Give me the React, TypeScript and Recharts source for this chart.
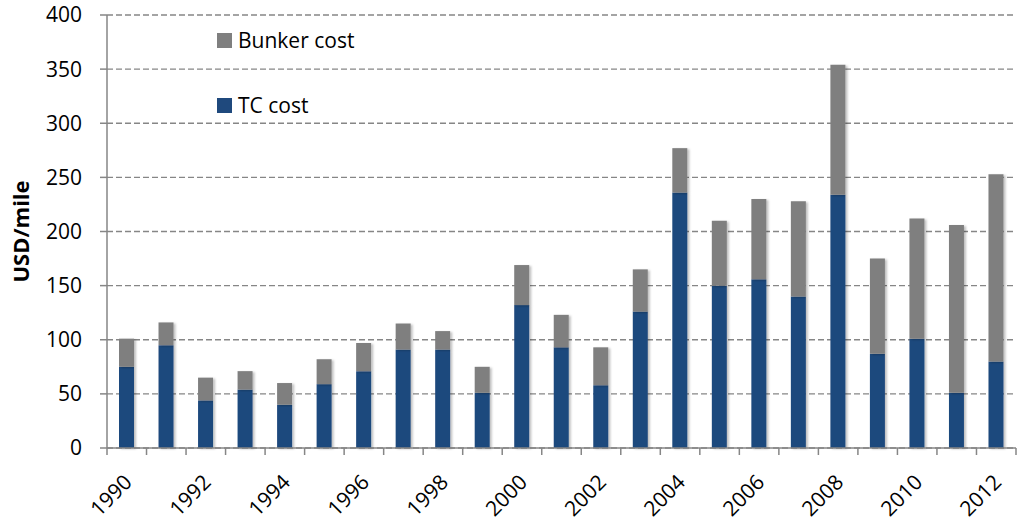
import { BarChart, Bar, XAxis, YAxis, CartesianGrid, Legend } from "recharts";

const years = [
  "1990", "1991", "1992", "1993", "1994", "1995", "1996", "1997", "1998", "1999", "2000", "2001",
  "2002", "2003", "2004", "2005", "2006", "2007", "2008", "2009", "2010", "2011", "2012",
];
const tcCost = [75, 95, 44, 54, 40, 59, 71, 91, 91, 51, 132, 93, 58, 126, 236, 150, 156, 140, 234, 87, 101, 51, 80];
const bunkerCost = [26, 21, 21, 17, 20, 23, 26, 24, 17, 24, 37, 30, 35, 39, 41, 60, 74, 88, 120, 88, 111, 155, 173];
const yTicks = [0, 50, 100, 150, 200, 250, 300, 350, 400];

const data = years.map((year, i) => ({ year, tc: tcCost[i], bunker: bunkerCost[i] }));

const FONT = "'Open Sans', sans-serif";
const AXIS = "#868686";
const BLUE = "#1f497d";
const GRAY = "#7f7f7f";

function YearTick(props: any) {
  const { x, y, payload, index } = props;
  const half = payload?.offset || 19.7;
  const tx = x - 4;
  const ty = y + 25;
  return (
    <g>
      <line x1={x - half} x2={x - half} y1={y} y2={y + 7} stroke={AXIS} strokeWidth={1.5} />
      {index === years.length - 1 && (
        <line x1={x + half} x2={x + half} y1={y} y2={y + 7} stroke={AXIS} strokeWidth={1.5} />
      )}
      {index % 2 === 0 && (
        <text
          x={tx}
          y={ty}
          dy="0.71em"
          textAnchor="end"
          transform={`rotate(-45, ${tx}, ${ty})`}
          fontSize={21}
          fontFamily={FONT}
          fill="#000"
        >
          {payload.value}
        </text>
      )}
    </g>
  );
}

function YLabel(props: any) {
  const vb = props.viewBox;
  const cx = vb.x + 20;
  const cy = vb.y + vb.height / 2;
  return (
    <text
      x={cx}
      y={cy}
      transform={`rotate(-90, ${cx}, ${cy})`}
      textAnchor="middle"
      dominantBaseline="central"
      fontSize={22}
      fontWeight="bold"
      fontFamily={FONT}
      fill="#000"
    >
      USD/mile
    </text>
  );
}

const legendItems = [
  { label: "Bunker cost", color: GRAY },
  { label: "TC cost", color: BLUE },
];

function LegendBox() {
  return (
    <div style={{ fontFamily: FONT, fontSize: 21, color: "#000" }}>
      {legendItems.map((item, i) => (
        <div key={item.label} style={{ display: "flex", alignItems: "center", height: 24, marginBottom: i === 0 ? 41 : 0 }}>
          <span style={{ width: 15, height: 15, background: item.color, marginRight: 6, display: "inline-block" }} />
          <span>{item.label}</span>
        </div>
      ))}
    </div>
  );
}

export default function App() {
  return (
    <div style={{ position: "absolute", left: 0, top: 0 }}>
      <BarChart width={1017} height={524} data={data} margin={{ top: 15, right: 1, bottom: 0, left: 0 }} barSize={15}>
        <defs>
          <filter id="barShadow" x="-20%" y="-5%" width="150%" height="115%">
            <feDropShadow dx="2" dy="1" stdDeviation="1.2" floodColor="#000" floodOpacity="0.25" />
          </filter>
        </defs>
        <CartesianGrid vertical={false} stroke={AXIS} strokeWidth={1.3} strokeDasharray="6 3" />
        <XAxis
          dataKey="year"
          interval={0}
          height={76}
          tickLine={false}
          tickSize={0}
          tickMargin={0}
          axisLine={{ stroke: AXIS, strokeWidth: 1.5 }}
          tick={<YearTick />}
        />
        <YAxis
          width={107}
          domain={[0, 400]}
          ticks={yTicks}
          interval={0}
          tickSize={7}
          tickMargin={18}
          axisLine={{ stroke: AXIS, strokeWidth: 1.5 }}
          tickLine={{ stroke: AXIS, strokeWidth: 1.5 }}
          tick={{ fontSize: 21, fontFamily: FONT, fill: "#000" }}
          label={<YLabel />}
        />
        <Legend
          layout="vertical"
          align="center"
          verticalAlign="middle"
          content={<LegendBox />}
          wrapperStyle={{ left: 217, top: 28, width: "auto", height: "auto" }}
        />
        <Bar dataKey="tc" name="TC cost" stackId="a" fill={BLUE} filter="url(#barShadow)" isAnimationActive={false} />
        <Bar dataKey="bunker" name="Bunker cost" stackId="a" fill={GRAY} filter="url(#barShadow)" isAnimationActive={false} />
      </BarChart>
    </div>
  );
}
